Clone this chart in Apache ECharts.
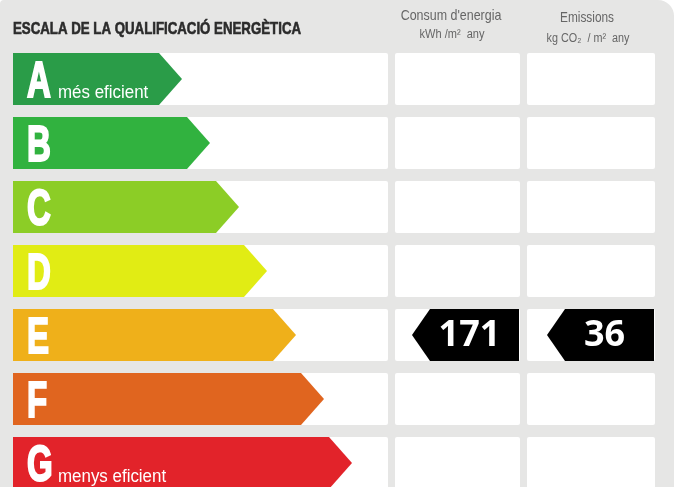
<!DOCTYPE html>
<html><head><meta charset="utf-8">
<script src="https://cdn.jsdelivr.net/npm/echarts@6/dist/echarts.min.js"></script>
<style>html,body{margin:0;padding:0;background:#fff}#c{width:679px;height:487px}</style>
</head><body><div id="c"></div>
<script>
const ratings = ['A','B','C','D','E','F','G'];
const ratingNotes = ['més eficient','','','','','','menys eficient'];
const arrowLengths = [169,197,226,254,283,311,339];
const scaleMax = 375;
const currentRating = 'E';
const consumValue = 171;
const emissionValue = 36;
const headerTitle = 'ESCALA DE LA QUALIFICACIÓ ENERGÈTICA';
const consumTitle = "Consum d'energia";
const consumUnit = 'kWh /m²  any';
const emissionTitle = 'Emissions';
const emissionUnit = 'kg CO₂  / m²  any';
const palette = ['#2a9c48','#31b23f','#8ccd26','#e1ec14','#efb01a','#e0651f','#e2232a'];

const SANS = "'Liberation Sans',Arial,sans-serif";
const chart = echarts.init(document.getElementById('c'), null, {renderer:'canvas'});

function boxItem(params, api){
  const cs = params.coordSys;
  const yc = api.coord([0, api.value(1)])[1];
  const h = api.size([0,1])[1] * 0.8125;
  return {type:'rect', shape:{x:cs.x, y:yc-h/2, width:cs.width, height:h, r:2}, style:{fill:'#ffffff'}};
}
function arrowItem(params, api){
  const idx = api.value(1);
  const p0 = api.coord([0, idx]);
  const p1 = api.coord([api.value(0), idx]);
  const h = api.size([0,1])[1] * 0.8125;
  const yc = p0[1], x0 = p0[0], xt = p1[0], d = 23;
  const note = ratingNotes[idx];
  const children = [
    {type:'polygon', shape:{points:[[x0,yc-h/2],[xt-d,yc-h/2],[xt,yc],[xt-d,yc+h/2],[x0,yc+h/2]]},
     style:{fill:palette[idx]}},
    {type:'text', x:x0+14, y:yc+29, scaleX:0.66, style:{text:ratings[idx], fill:'#fff', stroke:'#fff', lineWidth:2.2, font:'bold 50px '+SANS, verticalAlign:'bottom', align:'left'}}
  ];
  if (note) children.push({type:'text', x:x0+45, y:yc+23, scaleX:0.94, style:{text:note, fill:'#fff', font:'18px '+SANS, verticalAlign:'bottom', align:'left'}});
  return {type:'group', children};
}
function markerItem(params, api){
  const cs = params.coordSys;
  const yc = api.coord([0, api.value(1)])[1];
  const h = api.size([0,1])[1] * 0.8125;
  const right = cs.x + cs.width - 1, tip = right - 107, d = 18;
  return {type:'group', children:[
    {type:'polygon', shape:{points:[[tip,yc],[tip+d,yc-h/2],[right,yc-h/2],[right,yc+h/2],[tip+d,yc+h/2]]}, style:{fill:'#000'}},
    {type:'text', x:(tip+right)/2+4, y:yc+1, style:{text:String(api.value(2)), fill:'#fff', font:"bold 36px 'Open Sans',sans-serif", align:'center', verticalAlign:'middle'}}
  ]};
}

const grids = [
  {left:13, top:47, width:375, bottom:-8, outerBoundsMode:'none', containLabel:false},
  {left:395, top:47, width:125, bottom:-8, outerBoundsMode:'none', containLabel:false},
  {left:527, top:47, width:128, bottom:-8, outerBoundsMode:'none', containLabel:false}
];
const xAxes = grids.map((g,i)=>({type:'value', gridIndex:i, min:0, max:i===0?scaleMax:1, show:false}));
const yAxes = grids.map((g,i)=>({type:'category', gridIndex:i, data:ratings, inverse:true, show:false}));
const boxData = ratings.map(r=>[0,r]);

const series = [];
grids.forEach((g,i)=>series.push({type:'custom', xAxisIndex:i, yAxisIndex:i, z:1, renderItem:boxItem, data:boxData, encode:{x:0,y:1}, silent:true}));
series.push({type:'custom', xAxisIndex:0, yAxisIndex:0, z:2, renderItem:arrowItem, data:ratings.map((r,i)=>[arrowLengths[i], r]), encode:{x:0,y:1}});
series.push({type:'custom', xAxisIndex:1, yAxisIndex:1, z:2, renderItem:markerItem, data:[[1,currentRating,consumValue]], encode:{x:0,y:1}});
series.push({type:'custom', xAxisIndex:2, yAxisIndex:2, z:2, renderItem:markerItem, data:[[1,currentRating,emissionValue]], encode:{x:0,y:1}});

chart.setOption({
  backgroundColor:'#ffffff',
  animation:false,
  grid:grids,
  xAxis:xAxes,
  yAxis:yAxes,
  graphic:[
    {type:'rect', z:-10, shape:{x:0,y:0,width:674,height:520,r:[4,16,0,0]}, style:{fill:'#e6e6e5'}},
    {type:'text', x:13, y:29, scaleX:0.78, style:{text:headerTitle, fill:'#2b2b2b', stroke:'#2b2b2b', lineWidth:0.6, font:'bold 17px '+SANS, verticalAlign:'middle'}},
    {type:'text', x:451, y:16, scaleX:0.83, style:{text:consumTitle, fill:'#666', font:'15px '+SANS, align:'center', verticalAlign:'middle'}},
    {type:'text', x:452, y:35, scaleX:0.92, style:{text:consumUnit, fill:'#666', font:'12px '+SANS, align:'center', verticalAlign:'middle'}},
    {type:'text', x:587, y:18, scaleX:0.79, style:{text:emissionTitle, fill:'#666', font:'15px '+SANS, align:'center', verticalAlign:'middle'}},
    {type:'text', x:588, y:39, scaleX:0.9, style:{text:emissionUnit, fill:'#666', font:'12px '+SANS, align:'center', verticalAlign:'middle'}}
  ],
  series
});
</script></body></html>
